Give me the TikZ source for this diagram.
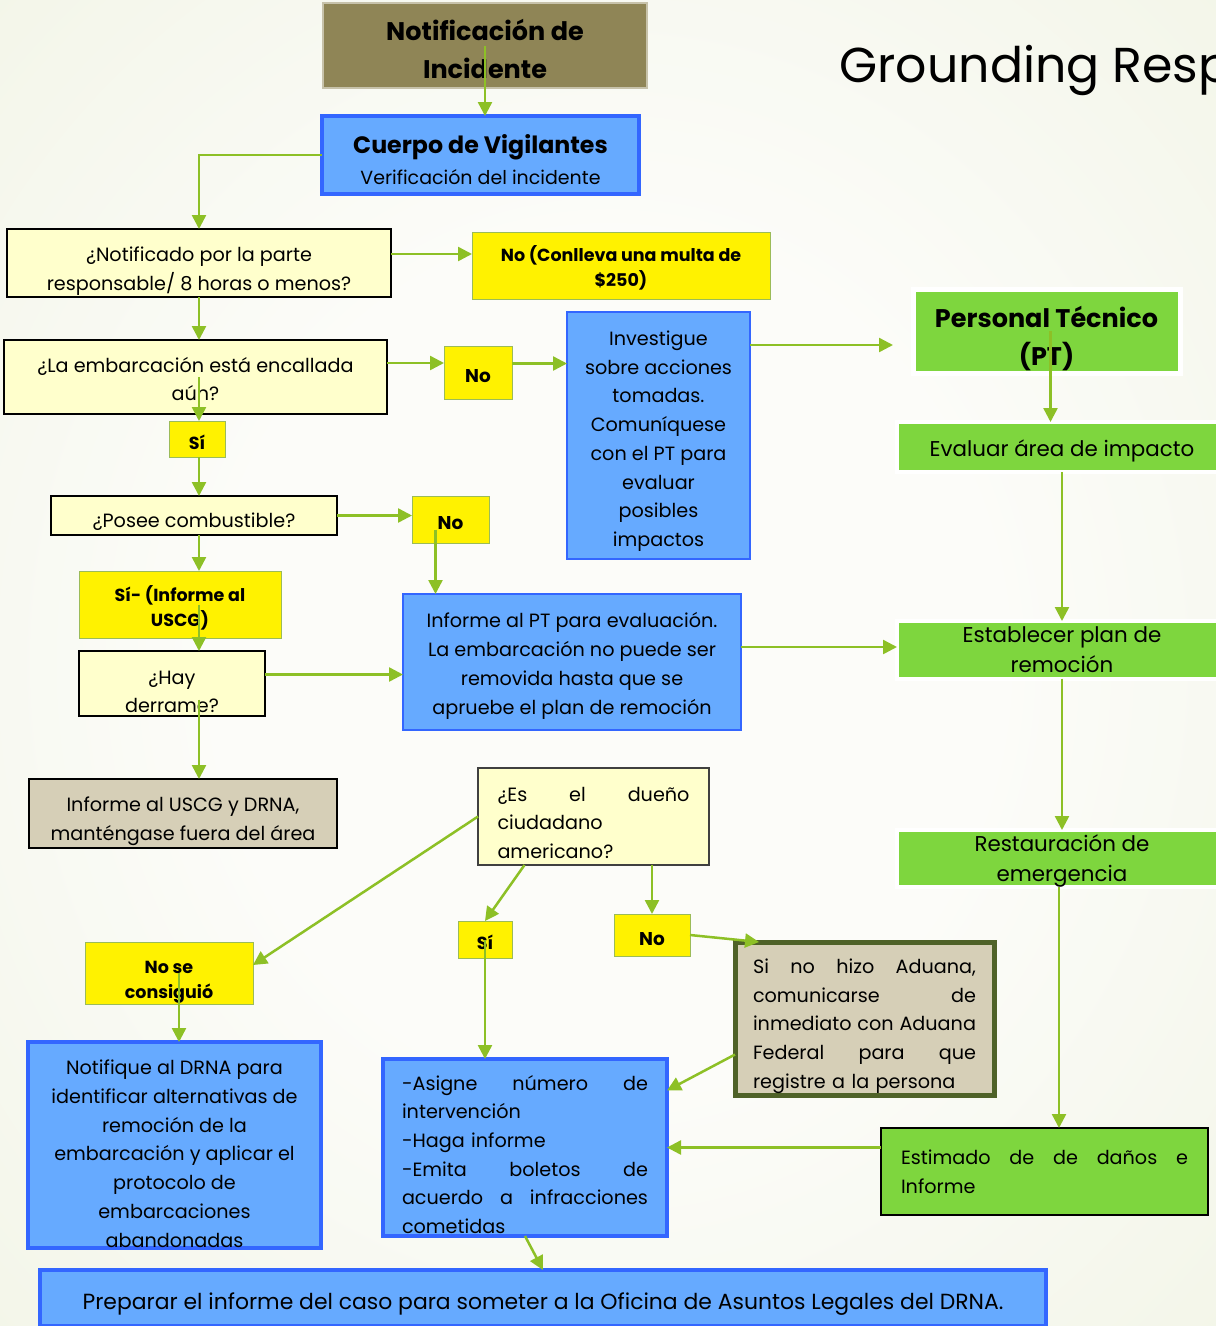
\documentclass[tikz,border=0pt]{standalone}
\usepackage{fontspec}
\setmainfont{Poppins}
\usetikzlibrary{arrows.meta,calc}

\definecolor{bgin}{HTML}{FCFCF9}
\definecolor{bgout}{HTML}{E3EACB}
\definecolor{olivefill}{HTML}{8F8556}
\definecolor{bluefill}{HTML}{66AAFF}
\definecolor{blueline}{HTML}{3366FF}
\definecolor{qyellow}{HTML}{FFFFCC}
\definecolor{lblline}{HTML}{9BBB59}
\definecolor{greenfill}{HTML}{7ED63E}
\definecolor{tanfill}{HTML}{D6CFB7}
\definecolor{darkolive}{HTML}{4F6228}
\definecolor{arrgreen}{HTML}{8DC026}

\pgfdeclareradialshading{bgshade}{\pgfpoint{0bp}{0bp}}{color(0bp)=(bgin); color(16bp)=(bgin); color(72bp)=(bgout)}

\newcommand\fcbody{\fontsize{19.2}{28.7}\selectfont}
\newcommand\fclabel{\fontsize{17.5}{25}\selectfont\bfseries}
\newcommand\fcgreen{\fontsize{21.4}{30.5}\selectfont}
\newcommand\fchead{\fontsize{25.5}{38}\selectfont\bfseries}
\newcommand\spreadline[1]{\noindent\leavevmode\hbox to\hsize{\spaceskip=.3em plus 1fil\relax#1}}

\tikzset{
  tdown/.style={execute at begin node={\rule{0pt}{#1}}},
  tup/.style={execute at end node={\rule[-#1]{0pt}{#1}}},
  box/.style={anchor=north west, inner sep=0pt, outer sep=0pt, align=flush center, font=\fcbody},
  qbox/.style={box, fill=qyellow, draw=black, line width=2pt, tdown=27pt},
  lbl/.style={box, fill=yellow, draw=lblline, line width=1pt, font=\fclabel, tdown=21pt},
  nolbl/.style={lbl, font=\fontsize{18.5}{25}\selectfont\bfseries, tdown=0pt},
  bluebox/.style={box, fill=bluefill, draw=blueline, line width=4.5pt, tdown=29pt},
  thinblue/.style={box, fill=bluefill, draw=blueline, line width=2pt, tdown=26pt},
  greenbox/.style={box, fill=greenfill, draw=white, line width=4pt, font=\fcgreen, tdown=21pt},
  tanbox/.style={box, fill=tanfill, draw=black, line width=2pt, tdown=27pt},
  arr/.style={draw=arrgreen, line width=2.5pt, -{Triangle[length=14pt,width=14pt]}}
}

\begin{document}
\begin{tikzpicture}[x=1pt,y=-1pt]
  \useasboundingbox (0,0) rectangle (1216,1326);
  \clip (0,0) rectangle (1216,1326);
  \shade[shading=bgshade] (0,0) rectangle (1216,1326);

  \node[anchor=base west, font=\fontsize{49}{60}\selectfont] (title) at (836,82) {Grounding Response};

  % left column
  \node[box, fill=olivefill, draw=olivefill!50!white, line width=1.5pt, font=\fchead, tdown=28pt, text width=316pt,
        minimum width=324pt, minimum height=85pt] (notif) at (323,3) {Notificación de\\Incidente};
  \node[bluebox, font=\fontsize{19}{31}\selectfont, tdown=26pt, text width=309pt, minimum width=317pt, minimum height=78pt] (cuerpo) at (322,116)
        {{\fontsize{23.7}{31}\selectfont\bfseries Cuerpo de Vigilantes}\\Verificación del incidente};
  \node[qbox, tdown=31pt, text width=376pt, minimum width=384pt, minimum height=68pt] (qnotif) at (7,229) {¿Notificado por la parte\\responsable/ 8 horas o menos?};
  \node[lbl, tdown=19pt, text width=290pt, minimum width=298pt, minimum height=67pt] (multa) at (472,232) {No (Conlleva una multa de\\\$250)};
  \node[qbox, tdown=13pt, tup=8pt, text width=375pt, minimum width=383pt, minimum height=74pt] (qenc) at (4,340) {¿La embarcación está encallada\\aún?};
  \node[nolbl, minimum width=68pt, minimum height=53pt] (no1) at (444,346) {No};
  \node[thinblue, tdown=26pt, text width=175pt, minimum width=183pt, minimum height=247pt] (invest) at (567,312)
        {Investigue\\sobre acciones\\tomadas.\\Comuníquese\\con el PT para\\evaluar\\posibles\\impactos};
  \node[lbl, minimum width=56pt, minimum height=36pt] (si1) at (169,421) {Sí};
  \node[qbox, minimum width=286pt, minimum height=39pt] (qcomb) at (51,496) {¿Posee combustible?};
  \node[nolbl, minimum width=77pt, minimum height=47pt] (no2) at (412,496) {No};
  \node[lbl, tdown=22pt, text width=194pt, minimum width=202pt, minimum height=67pt] (siuscg) at (79,571) {Sí- (Informe al\\USCG)};
  \node[qbox, tdown=30pt, text width=178pt, minimum width=186pt, minimum height=65pt] (qderr) at (79,651) {¿Hay\\derrame?};
  \node[thinblue, tdown=17pt, tup=8pt, text width=330pt, minimum width=338pt, minimum height=136pt] (infpt) at (403,594)
        {Informe al PT para evaluación.\\La embarcación no puede ser\\removida hasta que se\\apruebe el plan de remoción};
  \node[tanbox, tdown=30pt, text width=300pt, minimum width=308pt, minimum height=69pt] (infuscg) at (29,779) {Informe al USCG y DRNA,\\manténgase fuera del área};

  % owner branch
  \node[qbox, draw=black!75, line width=1.5pt, align=left, text width=192pt,
        minimum width=231pt, minimum height=97pt] (qdueno) at (478,768)
        {\spreadline{¿Es el dueño}\\ciudadano\\americano?};
  \node[lbl, tdown=30pt, text width=160pt, minimum width=168pt, minimum height=62pt] (nocons) at (85,942) {No se\\consiguió};
  \node[lbl, minimum width=54pt, minimum height=37pt] (si2) at (458,921) {Sí};
  \node[nolbl, minimum width=76pt, minimum height=42pt] (no3) at (614,914) {No};
  \node[box, fill=tanfill, draw=darkolive, line width=5pt, align=left, text width=223pt, tdown=30pt,
        minimum width=259pt, minimum height=153pt] (aduana) at (735,942)
        {\spreadline{Si no hizo Aduana,}\\\spreadline{comunicarse de}\\\spreadline{inmediato con Aduana}\\\spreadline{Federal para que}\\registre a la persona};
  \node[bluebox, tdown=32pt, text width=285pt, minimum width=293pt, minimum height=206pt] (notifique) at (28,1042)
        {Notifique al DRNA para\\identificar alternativas de\\remoción de la\\embarcación y aplicar el\\protocolo de\\embarcaciones\\abandonadas};
  \node[bluebox, align=left, text width=246pt, minimum width=284pt, minimum height=177pt] (asigne) at (383,1059)
        {\spreadline{-Asigne número de}\\intervención\\-Haga informe\\\spreadline{-Emita boletos de}\\\spreadline{acuerdo a infracciones}\\cometidas};
  \node[bluebox, font=\fontsize{21.9}{30}\selectfont, tdown=11pt, minimum width=1006pt, minimum height=56pt] (preparar) at (40,1270)
        {Preparar el informe del caso para someter a la Oficina de Asuntos Legales del DRNA.};

  % technical staff column
  \node[greenbox, font=\fchead, tdown=36pt, text width=259pt, line width=5pt, minimum width=267pt, minimum height=84pt] (pt) at (913,289) {Personal Técnico\\(PT)};
  \node[greenbox, tdown=24pt, minimum width=330pt, minimum height=50pt] (evaluar) at (897,422) {Evaluar área de impacto};
  \node[greenbox, tdown=15pt, tup=6pt, text width=322pt, minimum width=330pt, minimum height=52pt] (establecer) at (897,621) {Establecer plan de\\remoción};
  \node[greenbox, tdown=16pt, text width=322pt, minimum width=330pt, minimum height=51pt] (restaur) at (897,830) {Restauración de\\emergencia};
  \node[box, fill=greenfill, draw=black, line width=1.2pt, align=left, text width=287pt,
        minimum width=327pt, minimum height=87pt] (estimado) at (881,1128)
        {\spreadline{Estimado de de daños e}\\Informe};

  % connectors
  \coordinate (colx) at (199,0);
  \draw[arr] (notif.center) -- (notif.center |- cuerpo.north);
  \draw[arr] (cuerpo.west) -| (qnotif.north -| colx);
  \draw[arr] ([yshift=9pt]qnotif.east) -- ([yshift=9pt]qnotif.east -| multa.west);
  \draw[arr] (qnotif.south -| colx) -- (qenc.north -| colx);
  \draw[arr] ([yshift=14pt]qenc.east) -- ([yshift=14pt]qenc.east -| no1.west);
  \draw[arr] ([yshift=9pt]no1.east) -- ([yshift=9pt]no1.east -| invest.west);
  \draw[arr] (qenc.center -| colx) -- (si1.north -| colx);
  \draw[arr] (si1.south -| colx) -- (qcomb.north -| colx);
  \draw[arr] (qcomb.east) -- (qcomb.east -| no2.west);
  \draw[arr] (qcomb.south -| colx) -- (siuscg.north -| colx);
  \draw[arr] (siuscg.center -| colx) -- (qderr.north -| colx);
  \draw[arr] ([xshift=-15pt,yshift=-10pt]no2.center) -- ([xshift=-15pt]no2.center |- infpt.north);
  \draw[arr] ([yshift=9pt]qderr.east) -- ([yshift=9pt]qderr.east -| infpt.west);
  \draw[arr] ([yshift=-16pt]qderr.center -| colx) -- (infuscg.north -| colx);
  \draw[arr, shorten >=20pt] ([yshift=-33pt]invest.north east) -- ([yshift=-33pt]invest.north east -| pt.west);
  \draw[arr] ([yshift=15pt]infpt.east) -- ([yshift=15pt]infpt.east -| establecer.west);
  \draw[arr] ([xshift=4pt]pt.center) -- ([xshift=4pt]pt.center |- evaluar.north);
  \draw[arr] (evaluar.south) -- (establecer.north);
  \draw[arr] (establecer.south) -- (restaur.north);
  \draw[arr] ([xshift=-3pt]restaur.south) -- ([xshift=-3pt]restaur.south |- estimado.north);
  \draw[arr] (estimado.west |- asigne.east) -- (asigne.east);
  \draw[arr] ([yshift=-36pt]aduana.west) -- ([yshift=57pt]asigne.east);
  \draw[arr] (no3.east) -- ([xshift=24pt]aduana.north west);
  \draw[arr] (no3.north |- qdueno.south) -- (no3.north);
  \draw[arr] ([xshift=-69pt]qdueno.south) -- (si2.north);
  \draw[arr] (si2.center) -- (si2.center |- asigne.north);
  \draw[arr] (qdueno.west) -- ([yshift=8pt]nocons.east);
  \draw[arr] ([xshift=10pt]nocons.center) -- ([xshift=10pt]nocons.center |- notifique.north);
  \draw[arr] (asigne.south) -- (preparar.north);
\end{tikzpicture}
\end{document}
